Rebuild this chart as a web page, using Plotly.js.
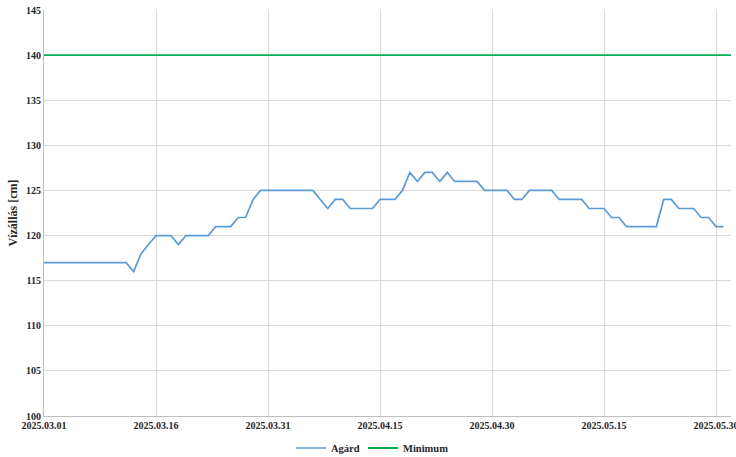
<!DOCTYPE html>
<html>
<head>
<meta charset="utf-8">
<script src="https://cdn.plot.ly/plotly-3.0.1.min.js"></script>
<style>html,body{margin:0;padding:0;background:#fff;}#chart{width:736px;height:457px;}</style>
</head>
<body>
<div id="chart"></div>
<script>
const agardDates = [
'2025-03-01','2025-03-02','2025-03-03','2025-03-04','2025-03-05','2025-03-06','2025-03-07','2025-03-08','2025-03-09','2025-03-10',
'2025-03-11','2025-03-12','2025-03-13','2025-03-14','2025-03-15','2025-03-16','2025-03-17','2025-03-18','2025-03-19','2025-03-20',
'2025-03-21','2025-03-22','2025-03-23','2025-03-24','2025-03-25','2025-03-26','2025-03-27','2025-03-28','2025-03-29','2025-03-30',
'2025-03-31','2025-04-01','2025-04-02','2025-04-03','2025-04-04','2025-04-05','2025-04-06','2025-04-07','2025-04-08','2025-04-09',
'2025-04-10','2025-04-11','2025-04-12','2025-04-13','2025-04-14','2025-04-15','2025-04-16','2025-04-17','2025-04-18','2025-04-19',
'2025-04-20','2025-04-21','2025-04-22','2025-04-23','2025-04-24','2025-04-25','2025-04-26','2025-04-27','2025-04-28','2025-04-29',
'2025-04-30','2025-05-01','2025-05-02','2025-05-03','2025-05-04','2025-05-05','2025-05-06','2025-05-07','2025-05-08','2025-05-09',
'2025-05-10','2025-05-11','2025-05-12','2025-05-13','2025-05-14','2025-05-15','2025-05-16','2025-05-17','2025-05-18','2025-05-19',
'2025-05-20','2025-05-21','2025-05-22','2025-05-23','2025-05-24','2025-05-25','2025-05-26','2025-05-27','2025-05-28','2025-05-29',
'2025-05-30','2025-05-31'
];
const agardValues = [
117,117,117,117,117,117,117,117,117,117,
117,117,116,118,119,120,120,120,119,120,
120,120,120,121,121,121,122,122,124,125,
125,125,125,125,125,125,125,124,123,124,
124,123,123,123,123,124,124,124,125,127,
126,127,127,126,127,126,126,126,126,125,
125,125,125,124,124,125,125,125,125,124,
124,124,124,123,123,123,122,122,121,121,
121,121,121,124,124,123,123,123,122,122,
121,121
];
const minimumDates = ['2025-03-01','2025-06-01'];
const minimumValues = [140,140];
const yTickValues = [100,105,110,115,120,125,130,135,140,145];

const font = {family:'"Liberation Serif", "Times New Roman", serif', size:10, color:'#262626', weight:700};
const legendFont = Object.assign({}, font, {size:10.5});

const traces = [
  {x:agardDates, y:agardValues, name:'Agárd', type:'scatter', mode:'lines', legend:'legend',
   line:{color:'#5B9BD5', width:1.7}, hoverinfo:'skip'},
  {x:minimumDates, y:minimumValues, name:'Minimum', type:'scatter', mode:'lines', legend:'legend2',
   line:{color:'#00B050', width:1.8}, hoverinfo:'skip'}
];

const layout = {
  width:736, height:457,
  margin:{l:44, r:5, t:10, b:41, autoexpand:false},
  paper_bgcolor:'#fff', plot_bgcolor:'#fff',
  font:font,
  showlegend:true,
  legend:{orientation:'h', x:291/736, xanchor:'left', xref:'container',
          y:9/457, yanchor:'middle', yref:'container',
          font:legendFont, itemwidth:30, bgcolor:'rgba(0,0,0,0)'},
  legend2:{orientation:'h', x:363/736, xanchor:'left', xref:'container',
          y:9/457, yanchor:'middle', yref:'container',
          font:legendFont, itemwidth:30, bgcolor:'rgba(0,0,0,0)'},
  xaxis:{type:'date', range:['2025-03-01','2025-06-01'],
         tick0:'2025-03-01', dtick:15*86400000, tickformat:'%Y.%m.%d',
         showgrid:true, gridcolor:'#d9d9d9', gridwidth:1,
         showline:true, linecolor:'#bfbfbf', linewidth:1,
         ticks:'', zeroline:false, tickfont:font, fixedrange:true,
         ticklabeloverflow:'allow', automargin:false},
  yaxis:{range:[100,145], tickvals:yTickValues, ticktext:yTickValues.map(String),
         showgrid:true, gridcolor:'#d9d9d9', gridwidth:1,
         showline:true, linecolor:'#bfbfbf', linewidth:1,
         ticks:'', zeroline:false, tickfont:font, fixedrange:true, automargin:false,
         title:{text:'Vízállás [cm]', font:Object.assign({}, font, {size:12}), standoff:5}}
};

Plotly.newPlot('chart', traces, layout, {displayModeBar:false, staticPlot:true});
</script>
</body>
</html>
